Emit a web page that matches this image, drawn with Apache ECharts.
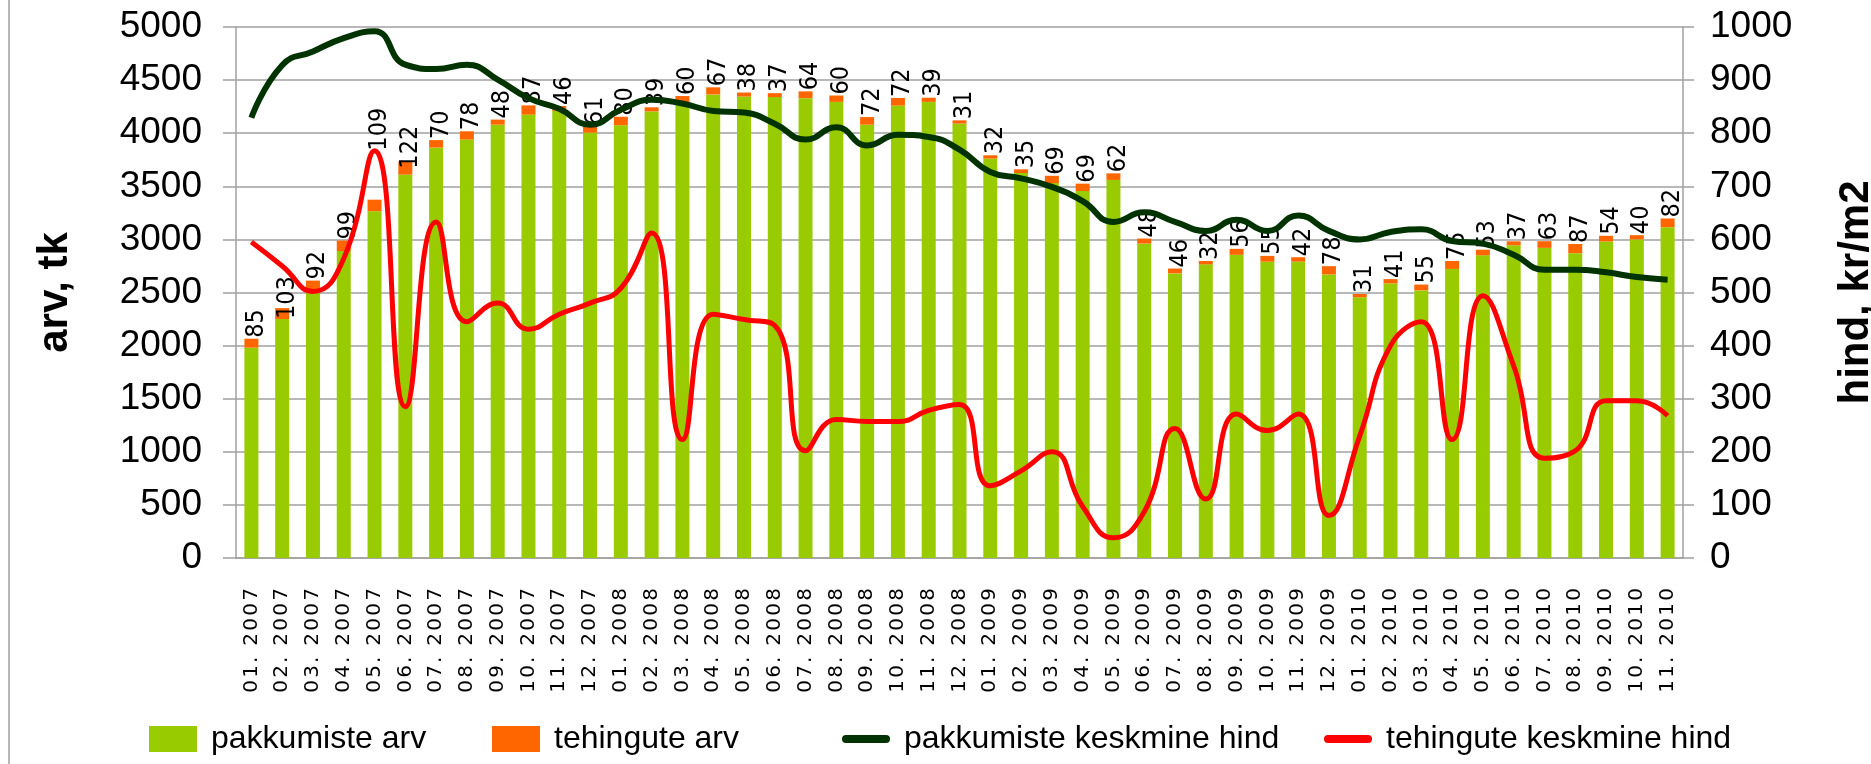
<!DOCTYPE html>
<html lang="et">
<head>
<meta charset="utf-8">
<script src="https://cdn.jsdelivr.net/npm/echarts@6/dist/echarts.min.js"></script>
<style>
    html, body { margin: 0; padding: 0; background: #fff; }
    #chart { width: 1871px; height: 764px; }
</style>
</head>
<body>
<div id="chart"></div>
<script>
    // kuud (x-telg)
    var months = [
        '01. 2007', '02. 2007', '03. 2007', '04. 2007', '05. 2007', '06. 2007',
        '07. 2007', '08. 2007', '09. 2007', '10. 2007', '11. 2007', '12. 2007',
        '01. 2008', '02. 2008', '03. 2008', '04. 2008', '05. 2008', '06. 2008',
        '07. 2008', '08. 2008', '09. 2008', '10. 2008', '11. 2008', '12. 2008',
        '01. 2009', '02. 2009', '03. 2009', '04. 2009', '05. 2009', '06. 2009',
        '07. 2009', '08. 2009', '09. 2009', '10. 2009', '11. 2009', '12. 2009',
        '01. 2010', '02. 2010', '03. 2010', '04. 2010', '05. 2010', '06. 2010',
        '07. 2010', '08. 2010', '09. 2010', '10. 2010', '11. 2010'
    ];
    // pakkumiste arv, tk
    var pakkumisteArv = [
        1980, 2250, 2520, 2890, 3265, 3610, 3865, 3940, 4080, 4175, 4210, 4005,
        4075, 4205, 4290, 4365, 4345, 4340, 4330, 4295, 4080, 4260, 4295, 4090,
        3760, 3625, 3530, 3456, 3560, 2960, 2680, 2765, 2855, 2790, 2790, 2670,
        2455, 2585, 2520, 2722, 2850, 2945, 2920, 2870, 2980, 3000, 3115
    ];
    // tehingute arv, tk
    var tehinguteArv = [
        85, 103, 92, 99, 109, 122, 70, 78, 48, 87, 46, 61,
        80, 39, 60, 67, 38, 37, 64, 60, 72, 72, 39, 31,
        32, 35, 69, 69, 62, 48, 46, 32, 56, 55, 42, 78,
        31, 41, 55, 75, 53, 37, 63, 87, 54, 40, 82
    ];
    // pakkumiste keskmine hind, kr/m2
    var pakkumisteHind = [
        829, 928, 954, 979, 992, 929, 921, 929, 901, 866, 846, 816,
        844, 863, 856, 842, 839, 818, 788, 811, 777, 797, 793, 769,
        727, 715, 699, 672, 633, 651, 633, 616, 637, 616, 645, 616,
        600, 614, 619, 597, 592, 571, 543, 543, 538, 529, 524
    ];
    // tehingute keskmine hind, kr/m2
    var tehinguteHind = [
        595, 550, 502, 564, 767, 285, 633, 445, 480, 431, 459, 480,
        508, 612, 223, 459, 449, 438, 202, 261, 257, 257, 278, 289,
        136, 164, 200, 97, 38, 87, 244, 111, 271, 240, 271, 80,
        230, 400, 445, 223, 494, 362, 188, 202, 296, 296, 268
    ];

    // mõned sildid on joonisel nihutatud
    var labelLift = {1: -12, 4: 48, 5: -8};

    var gridColor = '#a0a0a0';
    var lineIcon = 'path://M0,0 M48,26 M4,9 H44 A4,4 0 0 1 44,17 H4 A4,4 0 0 1 4,9 Z';
    var legendFont = {
        fontFamily: '"Liberation Sans", sans-serif',
        fontSize: 32,
        color: '#000',
        padding: [0, 0, 0, 9]
    };
    var monthFont = '"DejaVu Sans", sans-serif';

    function legendAt(left, item) {
        return {
            left: left,
            top: 723,
            itemWidth: 48,
            itemHeight: 26,
            padding: 0,
            textStyle: legendFont,
            data: [item]
        };
    }

    // kuu silt: iga märk oma laiusega kastis (hõre kiri nagu originaalis)
    function spacedMonth(v) {
        return v.split('').map(function (ch) {
            return (ch === '.' || ch === ' ') ? '{d|' + ch + '}' : '{c|' + ch + '}';
        }).join('');
    }

    var chart = echarts.init(document.getElementById('chart'));

    chart.setOption({
        animation: false,
        backgroundColor: '#fff',
        grid: {
            left: 236,
            right: 188,
            top: 27,
            bottom: 206,
            outerBoundsMode: 'none'
        },
        graphic: [{
            type: 'line',
            shape: {x1: 9, y1: 0, x2: 9, y2: 764},
            style: {stroke: gridColor, lineWidth: 1.5}
        }],
        legend: [
            legendAt(149, {name: 'pakkumiste arv', icon: 'rect'}),
            legendAt(492, {name: 'tehingute arv', icon: 'rect'}),
            legendAt(842, {name: 'pakkumiste keskmine hind', icon: lineIcon}),
            legendAt(1324, {name: 'tehingute keskmine hind', icon: lineIcon})
        ],
        xAxis: {
            type: 'category',
            data: months,
            axisLine: {lineStyle: {color: gridColor, width: 1.5}},
            axisTick: {length: 9, interval: 0, lineStyle: {color: gridColor, width: 1.5}},
            axisLabel: {
                interval: 0,
                rotate: 90,
                margin: 29,
                fontFamily: monthFont,
                fontSize: 20,
                color: '#000',
                formatter: spacedMonth,
                rich: {
                    c: {width: 15, align: 'center', fontFamily: monthFont, fontSize: 20, color: '#000'},
                    d: {width: 8.5, align: 'center', fontFamily: monthFont, fontSize: 20, color: '#000'}
                }
            }
        },
        yAxis: [
            {
                type: 'value',
                min: 0,
                max: 5000,
                interval: 500,
                name: 'arv, tk',
                nameLocation: 'middle',
                nameGap: 160,
                nameTextStyle: {
                    fontFamily: '"Liberation Sans", sans-serif',
                    fontWeight: 'bold',
                    fontSize: 42,
                    color: '#000'
                },
                axisLine: {show: true, lineStyle: {color: gridColor, width: 1.5}},
                axisTick: {show: true, length: 13, lineStyle: {color: gridColor, width: 1.5}},
                axisLabel: {
                    margin: 34,
                    fontFamily: '"Liberation Sans", sans-serif',
                    fontSize: 37,
                    color: '#000',
                    formatter: function (v) { return String(v); }
                },
                splitLine: {lineStyle: {color: gridColor, width: 1.5}}
            },
            {
                type: 'value',
                min: 0,
                max: 1000,
                interval: 100,
                name: 'hind, kr/m2',
                nameLocation: 'middle',
                nameRotate: 90,
                nameGap: 152,
                nameTextStyle: {
                    fontFamily: '"Liberation Sans", sans-serif',
                    fontWeight: 'bold',
                    fontSize: 42,
                    color: '#000'
                },
                axisLine: {show: true, lineStyle: {color: gridColor, width: 1.5}},
                axisTick: {show: true, length: 11, lineStyle: {color: gridColor, width: 1.5}},
                axisLabel: {
                    margin: 27,
                    fontFamily: '"Liberation Sans", sans-serif',
                    fontSize: 37,
                    color: '#000',
                    formatter: function (v) { return String(v); }
                },
                splitLine: {show: false}
            }
        ],
        series: [
            {
                name: 'pakkumiste arv',
                type: 'bar',
                stack: 'arv',
                barWidth: 14,
                itemStyle: {color: '#99CC00'},
                data: pakkumisteArv
            },
            {
                name: 'tehingute arv',
                type: 'bar',
                stack: 'arv',
                barWidth: 14,
                itemStyle: {color: '#FF6600'},
                label: {
                    show: true,
                    position: 'top',
                    rotate: 90,
                    align: 'left',
                    verticalAlign: 'middle',
                    distance: 1,
                    offset: [0, 5],
                    fontFamily: '"DejaVu Sans Condensed", "DejaVu Sans", sans-serif',
                    fontSize: 25,
                    color: '#000'
                },
                data: tehinguteArv.map(function (v, i) {
                    if (labelLift[i] != null) {
                        return {value: v, label: {offset: [labelLift[i], 5]}};
                    }
                    return v;
                })
            },
            {
                name: 'pakkumiste keskmine hind',
                type: 'line',
                yAxisIndex: 1,
                smooth: 0.5,
                symbol: 'none',
                itemStyle: {color: '#003300'},
                lineStyle: {color: '#003300', width: 6},
                data: pakkumisteHind
            },
            {
                name: 'tehingute keskmine hind',
                type: 'line',
                yAxisIndex: 1,
                smooth: 0.5,
                symbol: 'none',
                itemStyle: {color: '#FF0000'},
                lineStyle: {color: '#FF0000', width: 5},
                data: tehinguteHind
            }
        ]
    });
</script>
</body>
</html>
